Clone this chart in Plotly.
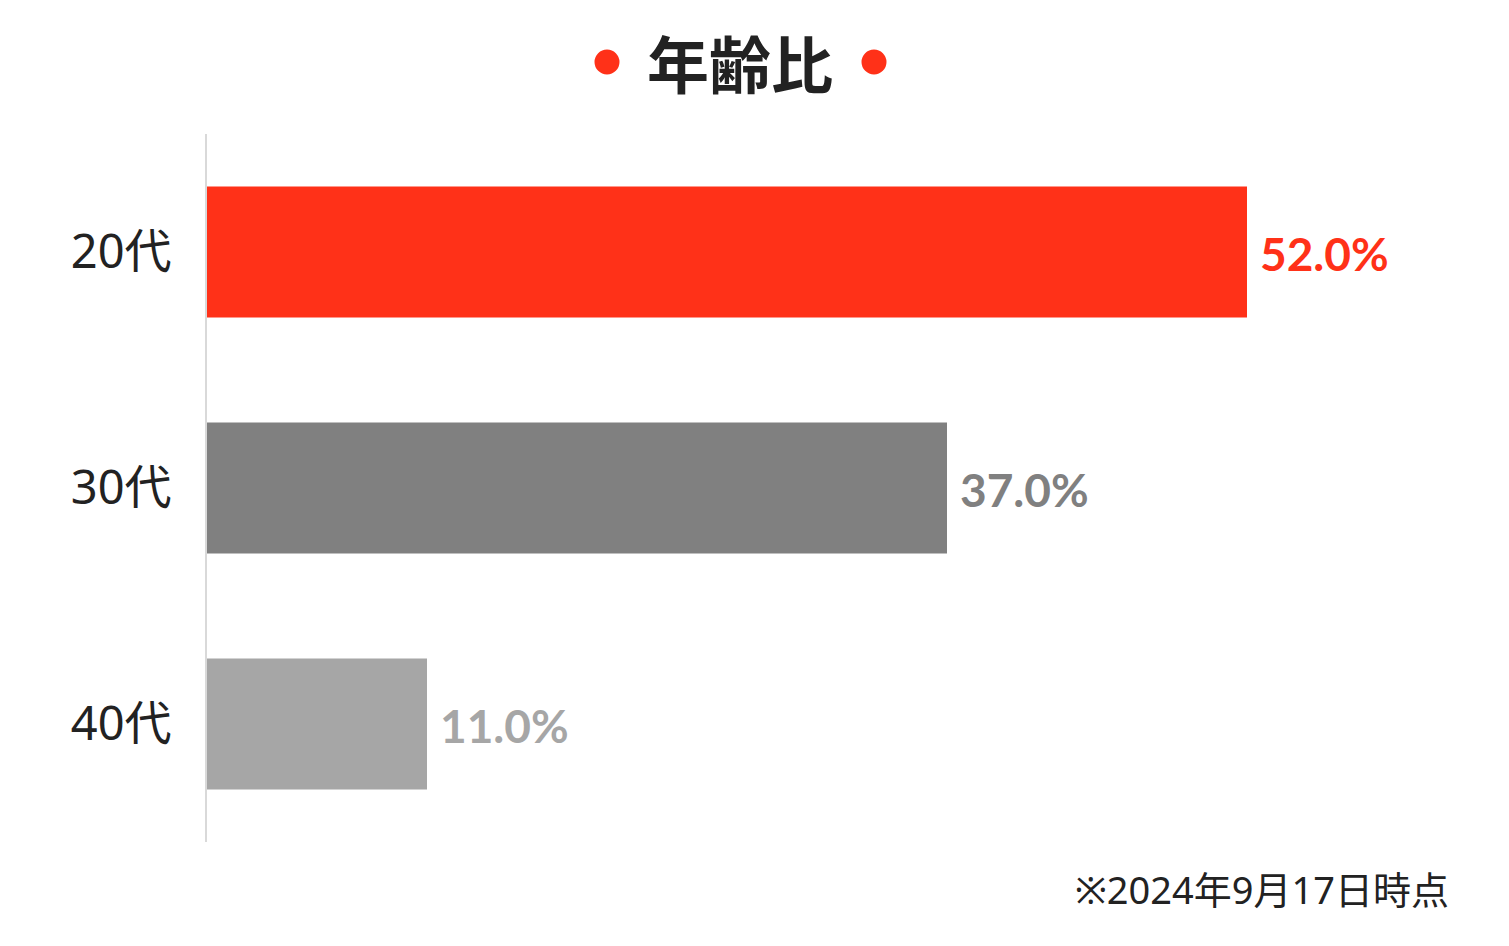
import plotly.graph_objects as go

categories = ["20代", "30代", "40代"]
values = [52.0, 37.0, 11.0]
bar_colors = ["#ff3118", "#808080", "#a6a6a6"]
value_labels = [f"{v:.1f}%" for v in values]
title_text = "年齢比"
footnote = "※2024年9月17日時点"

W, H = 1509, 946
OFF = 8  # page offset of the figure
L, T = 207 - OFF, 134 - OFF
R = W - (1449 - OFF)
B = H - (842 - OFF)
plot_w = W - L - R
plot_h = H - T - B
px_per_unit = 20.0

fig = go.Figure()
fig.add_trace(go.Bar(
    x=values, y=categories, orientation="h",
    marker=dict(color=bar_colors, line=dict(width=0)),
    width=0.555, showlegend=False, hoverinfo="skip",
))

for c, v, lab, col in zip(categories, values, value_labels, bar_colors):
    fig.add_annotation(x=v, y=c, xref="x", yref="y", text=lab, showarrow=False,
                       xanchor="left", yanchor="middle", xshift=11, yshift=-1,
                       font=dict(family="Lato", size=46, color=col, weight="bold"))

def px2paper_x(px):
    return (px - OFF - L) / plot_w

def px2paper_y(py):
    return 1 + (T - (py - OFF)) / plot_h

for cx in (607, 874):
    fig.add_shape(type="circle", xref="paper", yref="paper",
                  x0=px2paper_x(cx - 12.5), x1=px2paper_x(cx + 12.5),
                  y0=px2paper_y(62 + 12.5), y1=px2paper_y(62 - 12.5),
                  fillcolor="#ff3118", line=dict(width=0))

fig.add_annotation(x=px2paper_x(740), y=px2paper_y(62), xref="paper", yref="paper",
                   text=f"<b>{title_text}</b>", showarrow=False,
                   xanchor="center", yanchor="middle",
                   font=dict(family="Noto Sans CJK JP", size=62, color="#222222"))

fig.add_annotation(x=px2paper_x(1451), y=px2paper_y(889), xref="paper", yref="paper",
                   text=footnote, showarrow=False, xanchor="right", yanchor="middle",
                   font=dict(family="Noto Sans, Noto Sans CJK JP", size=38, color="#222222"))

fig.update_layout(
    width=W, height=H,
    margin=dict(l=L, r=R, t=T, b=B, pad=0),
    paper_bgcolor="white", plot_bgcolor="white",
    xaxis=dict(range=[0, plot_w / px_per_unit], visible=False, fixedrange=True),
    yaxis=dict(categoryorder="array", categoryarray=categories,
               range=[2.5, -0.5], showline=True, linecolor="#d9d9d9", linewidth=2,
               showgrid=False, zeroline=False, ticks="", ticklabelstandoff=24,
               tickfont=dict(family="Noto Sans, Noto Sans CJK JP", size=47, color="#222222")),
)

fig.write_html("out.html")
